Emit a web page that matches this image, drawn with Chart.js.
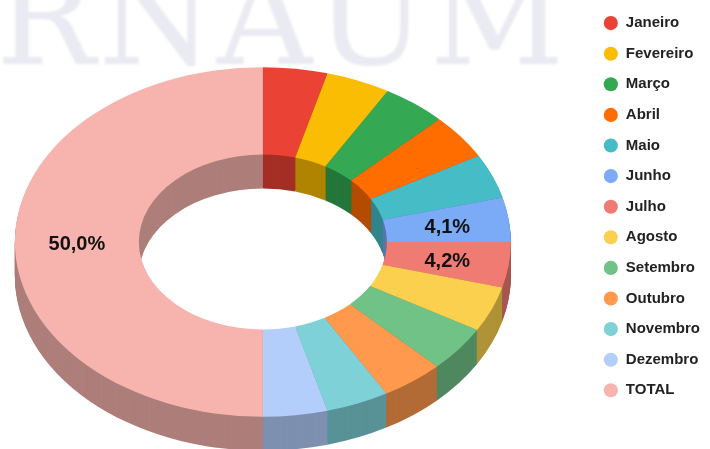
<!DOCTYPE html>
<html>
<head>
<meta charset="utf-8">
<script src="https://cdn.jsdelivr.net/npm/chart.js@4"></script>
<style>
  html, body { margin: 0; padding: 0; background: #fff; overflow: hidden; width: 710px; height: 449px; }
  #wrap { position: relative; width: 710px; height: 449px; overflow: hidden; }
  #marca {
    position: absolute; left: -4px; top: -48px;
    font-family: "DejaVu Serif", serif; font-size: 132px; line-height: 132px;
    color: #eaeaf2; letter-spacing: 3px; white-space: nowrap; filter: blur(0.8px);
  }
  #grafico { position: absolute; left: -70px; top: 0px; }
</style>
</head>
<body>
<div id="wrap">
  <div id="marca">RNAUM</div>
  <canvas id="grafico" width="780" height="484"></canvas>
</div>
<script>
const meses = ['Janeiro', 'Fevereiro', 'Março', 'Abril', 'Maio', 'Junho', 'Julho',
  'Agosto', 'Setembro', 'Outubro', 'Novembro', 'Dezembro', 'TOTAL'];
const valores = [4.2, 4.2, 4.2, 4.2, 4.1, 4.1, 4.2, 4.2, 4.2, 4.1, 4.1, 4.2, 50.0];
const cores = ['#ea4335', '#fbbc04', '#34a853', '#ff6d01', '#46bdc6', '#7baaf7', '#f07b72',
  '#fcd04f', '#71c287', '#ff994d', '#7ed1d7', '#b3cefb', '#f7b4ae'];
const rotulosVisiveis = ['Junho', 'Julho', 'TOTAL'];

const INCLINACAO = 0.705; // achatamento vertical da rosca
const PROFUNDIDADE = 34;

function escurecer(hex, f) {
  const n = parseInt(hex.slice(1), 16);
  const r = Math.round(((n >> 16) & 255) * f);
  const g = Math.round(((n >> 8) & 255) * f);
  const b = Math.round((n & 255) * f);
  return `rgb(${r},${g},${b})`;
}
const coresLado = cores.map(c => escurecer(c, 0.7));

// desenha as paredes laterais e inclina o topo
const rosca3d = {
  id: 'rosca3d',
  beforeDatasetsDraw(chart) {
    const ctx = chart.ctx;
    const arcos = chart.getDatasetMeta(0).data;
    if (!arcos.length) return;
    const cy = arcos[0].y;
    for (let d = PROFUNDIDADE; d >= 1; d--) {
      arcos.forEach((a, i) => {
        const p = a.getProps(['x', 'y', 'startAngle', 'endAngle', 'innerRadius', 'outerRadius'], true);
        ctx.save();
        ctx.translate(0, cy + d);
        ctx.scale(1, INCLINACAO);
        ctx.translate(0, -cy);
        ctx.beginPath();
        ctx.arc(p.x, p.y, p.outerRadius, p.startAngle, p.endAngle);
        ctx.arc(p.x, p.y, p.innerRadius, p.endAngle, p.startAngle, true);
        ctx.closePath();
        ctx.fillStyle = coresLado[i];
        ctx.fill();
        ctx.restore();
      });
    }
    ctx.save();
    ctx.translate(0, cy);
    ctx.scale(1, INCLINACAO);
    ctx.translate(0, -cy);
  },
  afterDatasetsDraw(chart) {
    const ctx = chart.ctx;
    ctx.restore();
    const arcos = chart.getDatasetMeta(0).data;
    if (!arcos.length) return;
    const cy = arcos[0].y;
    const soma = valores.reduce((s, v) => s + v, 0);
    ctx.save();
    ctx.font = 'bold 20px "Liberation Sans", Arial, sans-serif';
    ctx.fillStyle = '#111';
    ctx.textAlign = 'center';
    ctx.textBaseline = 'middle';
    arcos.forEach((a, i) => {
      if (!rotulosVisiveis.includes(meses[i])) return;
      const pos = a.tooltipPosition(true);
      const pct = (valores[i] / soma * 100).toFixed(1).replace('.', ',') + '%';
      ctx.fillText(pct, pos.x, cy + (pos.y - cy) * INCLINACAO + 2);
    });
    ctx.restore();
  }
};

new Chart(document.getElementById('grafico'), {
  type: 'doughnut',
  data: {
    labels: meses,
    datasets: [{
      data: valores,
      backgroundColor: cores,
      borderWidth: 0,
      radius: 248,
      clip: false
    }]
  },
  options: {
    responsive: false,
    animation: false,
    cutout: '50%',
    layout: { padding: { left: 8, right: 0, top: 0, bottom: 0 } },
    plugins: {
      tooltip: { enabled: false },
      legend: {
        position: 'right',
        align: 'start',
        labels: {
          usePointStyle: true,
          pointStyle: 'circle',
          boxHeight: 10,
          padding: 15.6,
          color: '#222',
          font: { family: '"Liberation Sans", Arial, sans-serif', size: 15, weight: 'bold' }
        }
      }
    }
  },
  plugins: [rosca3d]
});
</script>
</body>
</html>
